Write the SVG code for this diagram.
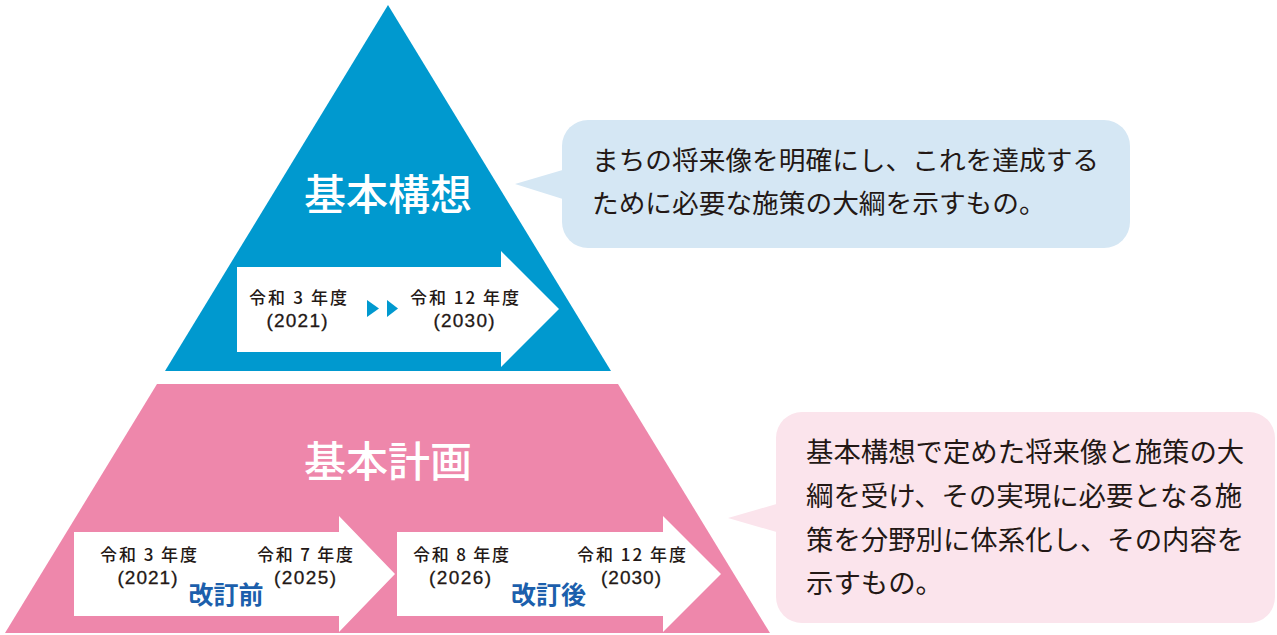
<svg xmlns="http://www.w3.org/2000/svg" width="1277" height="635" viewBox="0 0 1277 635">
  <style>
    text { font-family: "Noto Sans CJK JP", "Noto Sans", sans-serif; }
    .title { fill: #ffffff; font-size: 42px; font-weight: 500; text-anchor: middle; }
    .yr { fill: #231815; font-size: 17px; font-weight: 500; text-anchor: middle; }
    .num { fill: #231815; font-family: "Liberation Sans", "Noto Sans", sans-serif; font-size: 19px; text-anchor: middle; stroke: #231815; stroke-width: 0.3px; }
    .rev { fill: #1c5fac; font-size: 25px; font-weight: 700; text-anchor: middle; }
    .note { fill: #231815; font-size: 26.7px; }
    .note2 { fill: #231815; font-size: 27.4px; }
    .arrow { fill: #ffffff; }
  </style>
  <rect width="1277" height="635" fill="#ffffff"/>

  <g id="kihon-kousou">
    <polygon points="388,5 611,371 165,371" fill="#0099cf"/>
    <text class="title" x="388" y="210">基本構想</text>
    <path class="arrow" d="M237,267 H501 V251 L559,309 L501,367 V352 H237 Z"/>
    <text class="yr" x="298" y="304" textLength="98">令和 3 年度</text>
    <text class="num" x="297" y="327" textLength="61">(2021)</text>
    <polygon points="367,300 379,308.5 367,317" fill="#0099cf"/>
    <polygon points="387,300 398,308.5 387,317" fill="#0099cf"/>
    <text class="yr" x="464.5" y="304" textLength="109">令和 12 年度</text>
    <text class="num" x="464" y="327" textLength="61">(2030)</text>
  </g>

  <g id="kihon-keikaku">
    <polygon points="157,384 618,384 770,633 5,633" fill="#ee87ab"/>
    <text class="title" x="388" y="477">基本計画</text>
    <path class="arrow" d="M74,532 H339 V516 L395,574 L339,632 V616 H74 Z"/>
    <path class="arrow" d="M397,532 H663 V516 L721,574 L663,632 V616 H397 Z"/>
    <text class="yr" x="148.5" y="561" textLength="97">令和 3 年度</text>
    <text class="num" x="147.5" y="584" textLength="60">(2021)</text>
    <text class="yr" x="305" y="561" textLength="96">令和 7 年度</text>
    <text class="num" x="305" y="584" textLength="62">(2025)</text>
    <text class="rev" x="226" y="604">改訂前</text>
    <text class="yr" x="461" y="561" textLength="96">令和 8 年度</text>
    <text class="num" x="460" y="584" textLength="62">(2026)</text>
    <text class="yr" x="631.5" y="561" textLength="109">令和 12 年度</text>
    <text class="num" x="631" y="584" textLength="60">(2030)</text>
    <text class="rev" x="548.5" y="604">改訂後</text>
  </g>

  <g id="callout-kousou">
    <polygon points="515,184 566,169 566,200" fill="#d5e7f4"/>
    <rect x="562" y="120" width="568" height="128" rx="26" fill="#d5e7f4"/>
    <text class="note" x="592" y="170">まちの将来像を明確にし、これを達成する</text>
    <text class="note" x="592" y="213">ために必要な施策の大綱を示すもの。</text>
  </g>

  <g id="callout-keikaku">
    <polygon points="728,518 780,503 780,533" fill="#fbe4ec"/>
    <rect x="776" y="412" width="499" height="211" rx="26" fill="#fbe4ec"/>
    <text class="note2" x="806" y="462">基本構想で定めた将来像と施策の大</text>
    <text class="note2" x="806" y="506">綱を受け、その実現に必要となる施</text>
    <text class="note2" x="806" y="550">策を分野別に体系化し、その内容を</text>
    <text class="note2" x="806" y="593">示すもの。</text>
  </g>

  <g id="connectors"/>
</svg>
